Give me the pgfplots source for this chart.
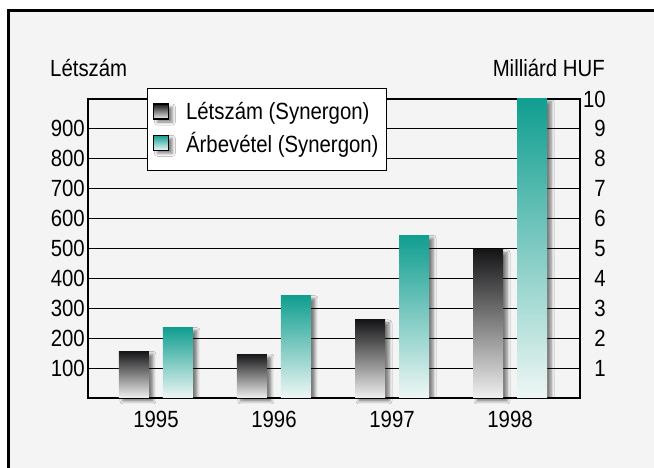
\documentclass[border=0pt]{standalone}
\usepackage{fontspec}
\setmainfont{Liberation Sans}[FakeStretch=0.87]
\usepackage{pgfplots}
\pgfplotsset{compat=1.18}
\usetikzlibrary{shadows.blur}

\definecolor{panel}{RGB}{244,244,244}
\definecolor{tealTop}{RGB}{16,158,144}
\definecolor{tealBot}{RGB}{238,247,245}
\definecolor{darkTop}{RGB}{22,22,24}
\definecolor{darkBot}{RGB}{240,240,240}

\tikzset{
  barshadow/.style={blur shadow={shadow xshift=4bp, shadow yshift=-3bp,
      shadow blur radius=3bp, shadow opacity=50}},
}
\pgfplotsset{
  common/.style={
    at={(88bp,70bp)}, anchor=south west,
    scale only axis, width=492bp, height=299bp,
    xmin=-0.576, xmax=3.593,
    major tick length=0pt,
    axis line style={black, line width=1.4bp},
    /pgf/number format/assume math mode=true,
  },
  % each bar is its own plot so that its gradient runs over that bar alone
  darkbar/.style={ybar, bar width=30bp, bar shift=-22bp, draw=none,
    top color=darkTop, bottom color=darkBot, barshadow, forget plot},
  tealbar/.style={ybar, bar width=30bp, bar shift=22bp, draw=none,
    top color=tealTop, bottom color=tealBot, barshadow, forget plot},
}

\begin{document}
\fontsize{23.5}{27}\selectfont
\begin{tikzpicture}
\path[use as bounding box] (0bp,0bp) rectangle (654bp,468bp);
\fill[white] (0bp,0bp) rectangle (654bp,468bp);
\fill[panel] (8bp,0bp) rectangle (654bp,457bp);
\draw[line width=3bp] (8bp,0bp) -- (8bp,457bp) -- (654bp,457bp);

% headcount, left axis
\begin{axis}[common, clip=false,
  ymin=0, ymax=1000, ytick={100,200,...,900},
  ymajorgrids, major grid style={black, line width=1bp},
  xtick={0,1,2,3}, xticklabels={1995,1996,1997,1998},
  xticklabel style={yshift=-5bp},
  yticklabel style={inner xsep=3bp},
]
\addplot[darkbar] coordinates {(0,156)};
\addplot[darkbar] coordinates {(1,147)};
\addplot[darkbar] coordinates {(2,261)};
\addplot[darkbar] coordinates {(3,495)};
\node[anchor=base west, inner sep=0pt] at (axis description cs:-0.0772,1.0736) {Létszám};
\node[anchor=base east, inner sep=0pt] at (axis description cs:1.0508,1.0736) {Milliárd HUF};
\end{axis}

% revenue in billion HUF, right axis
\begin{axis}[common,
  ymin=0, ymax=10, ytick={1,2,...,10},
  axis y line*=right, axis x line=none,
  yticklabel style={anchor=east, xshift=26bp, inner xsep=0pt},
  legend cell align=left,
  legend style={at={(0.1199,1.0368)}, anchor=north west,
    draw=black, line width=1.4bp, fill=white,
    inner xsep=5bp, inner ysep=11bp, row sep=3bp,
    nodes={inner sep=3bp},
    /tikz/every odd column/.append style={column sep=14bp}},
]
\addplot[tealbar] coordinates {(0,2.35)};
\addplot[tealbar] coordinates {(1,3.42)};
\addplot[tealbar] coordinates {(2,5.44)};
\addplot[tealbar] coordinates {(3,10.0)};
\addlegendimage{legend image code/.code={
  \fill[top color=darkTop, bottom color=darkBot, barshadow]
    (0bp,-6bp) rectangle (15bp,9bp);}}
\addlegendentry{Létszám (Synergon)}
\addlegendimage{legend image code/.code={
  \fill[top color=tealTop, bottom color=tealBot, barshadow]
    (0bp,-6bp) rectangle (15bp,9bp);}}
\addlegendentry{Árbevétel (Synergon)}
\end{axis}
\end{tikzpicture}
\end{document}
